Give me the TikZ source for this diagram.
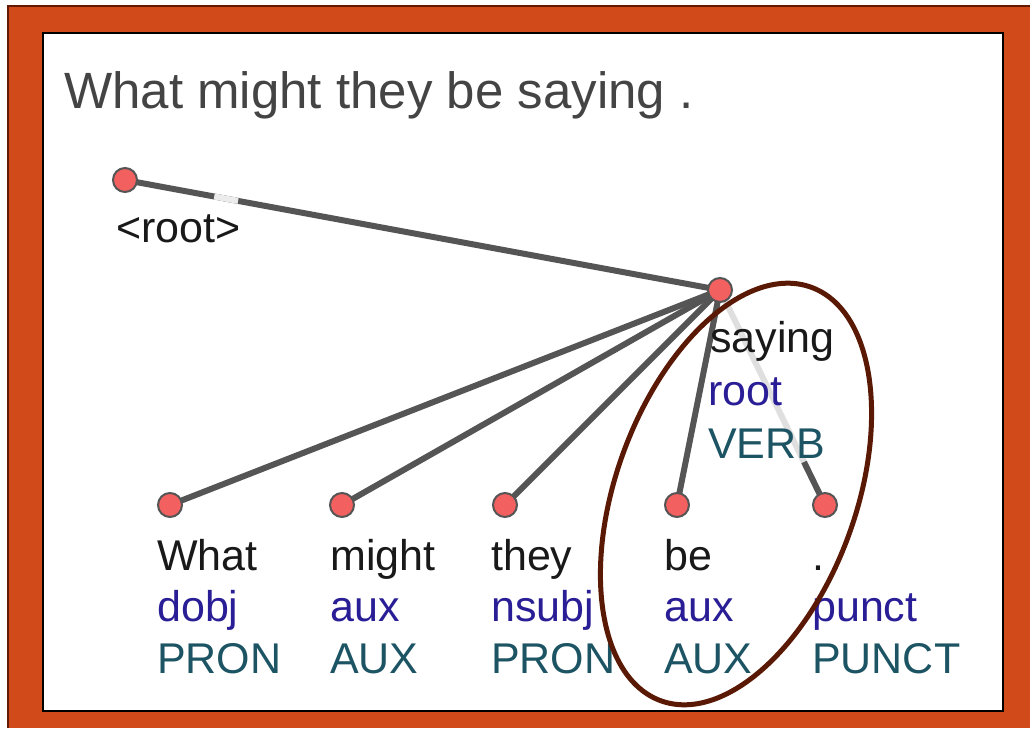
\documentclass[tikz,border=0pt]{standalone}
\usepackage{fontspec}
\setmainfont{Liberation Sans}
\usetikzlibrary{calc}

\definecolor{frameorange}{RGB}{208,74,26}
\definecolor{framedark}{RGB}{100,25,5}
\definecolor{dotred}{RGB}{242,96,96}
\definecolor{edgegray}{RGB}{85,85,85}
\definecolor{relblue}{RGB}{42,30,150}
\definecolor{tagteal}{RGB}{28,84,100}
\definecolor{ringbrown}{RGB}{90,25,5}
\definecolor{titlegray}{RGB}{68,68,68}

\pgfdeclarelayer{frame}
\pgfdeclarelayer{edges}
\pgfsetlayers{frame,edges,main}

\tikzset{
	tok/.style={circle, draw=edgegray, fill=dotred, line width=2pt, minimum size=24pt, inner sep=0pt},
	deparc/.style={line width=6pt, draw=edgegray},
	wordlbl/.style={anchor=base west, inner sep=0pt, font=\fontsize{43}{52}\selectfont, text=black!90},
	rellbl/.style={wordlbl, text=relblue},
	taglbl/.style={wordlbl, text=tagteal},
}

\begin{document}
\begin{tikzpicture}[x=1pt, y=-1pt]
		%%%%% START %%%%%
		\useasboundingbox (0,0) rectangle (1030,728);
		
		\begin{pgfonlayer}{frame}
		\fill[frameorange] (8,6) rectangle (1030,728);
		\draw[framedark, line width=1.5pt] (8,728) -- (8,6) -- (1030,6);
		\draw[black, line width=2pt, fill=white] (43,33) rectangle (1003,711);
		\end{pgfonlayer}
		
		\node[anchor=base west, inner sep=0pt, font=\fontsize{51}{60}\selectfont, text=titlegray] (sentence) at (64,108) {What might they be saying .};
		
		\node[tok] (root) at (125,180) {};
		\node[tok] (saying) at (720,290) {};
		\node[tok] (what) at (170,505) {};
		\node[tok] (might) at (342,505) {};
		\node[tok] (they) at (505,505) {};
		\node[tok] (be) at (677,505) {};
		\node[tok] (stop) at (825,505) {};
		
		\begin{pgfonlayer}{edges}
		\draw[deparc] (root.center) -- (saying.center);
		\draw[line width=6pt, gray!15] ($(root)!0.15!(saying)$) -- ($(root)!0.19!(saying)$);
		\draw[deparc] (saying.center) -- (what.center);
		\draw[deparc] (saying.center) -- (might.center);
		\draw[deparc] (saying.center) -- (they.center);
		\draw[deparc] (saying.center) -- (be.center);
		\draw[line width=6pt, gray!25] (saying.center) -- (stop.center);
		\draw[deparc] ($(saying)!0.8!(stop)$) -- (stop.center);
		\end{pgfonlayer}
		
		\node[wordlbl] (root-w) at (116,242) {<root>};
		
		\node[wordlbl] (saying-w) at (710,352) {saying};
		\node[rellbl] (saying-r) at (708,405) {root};
		\node[taglbl] (saying-t) at (708,458) {VERB};
		
		\node[wordlbl] (what-w) at (157,570) {What};
		\node[rellbl] (what-r) at (157,621) {dobj};
		\node[taglbl] (what-t) at (157,673) {PRON};
		
		\node[wordlbl] (might-w) at (330,570) {might};
		\node[rellbl] (might-r) at (330,621) {aux};
		\node[taglbl] (might-t) at (330,673) {AUX};
		
		\node[wordlbl] (they-w) at (491,570) {they};
		\node[rellbl] (they-r) at (491,621) {nsubj};
		\node[taglbl] (they-t) at (491,673) {PRON};
		
		\node[wordlbl] (be-w) at (664,570) {be};
		\node[rellbl] (be-r) at (664,621) {aux};
		\node[taglbl] (be-t) at (664,673) {AUX};
		
		\node[wordlbl] (stop-w) at (812,570) {.};
		\node[rellbl] (stop-r) at (812,621) {punct};
		\node[taglbl] (stop-t) at (812,673) {PUNCT};
		
		\draw[ringbrown, line width=5pt] (736,494) ellipse [x radius=120pt, y radius=220pt, rotate=-20];
		%%%%% END %%%%%
\end{tikzpicture}
\end{document}
